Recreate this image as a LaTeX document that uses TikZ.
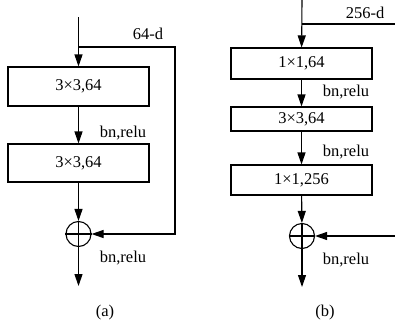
\documentclass[tikz,border=0pt]{standalone}
\usepackage{fontspec}
\setmainfont{Liberation Serif}
\usetikzlibrary{arrows.meta}
\begin{document}
\begin{tikzpicture}[x=1pt,y=-1pt,
  line width=1.1pt,
  >={Triangle[length=12pt,width=8pt]},
  txt/.style={font=\fontsize{16.5}{18}\selectfont},
  blk/.style={draw, rectangle, minimum width=141pt, inner sep=0pt, txt},
  lbl/.style={inner sep=0pt, txt},
  sumc/.style={draw, circle, minimum size=25pt, inner sep=0pt}]
\useasboundingbox (0,0) rectangle (395,324);
% ---------- panel (a)
\coordinate (ain) at (78.5,17);
\coordinate (aj) at (78.5,47);
\coordinate (ar1) at (175,47);
\coordinate (ar2) at (175,234);
\coordinate (aout) at (78.5,286);
\node[blk, minimum height=39pt] (a1) at (78.5,86.5) {3×3,64};
\node[blk, minimum height=38pt] (a2) at (78.5,163) {3×3,64};
\node[sumc] (ac) at (78.5,234) {};
\draw (ac.north) -- (ac.south) (ac.west) -- (ac.east);
\draw[->] (ain) -- (a1);
\draw[->] (a1) -- (a2);
\draw[->] (a2) -- (ac);
\draw[->] (aj) -- (ar1) -- (ar2) -- (ac);
\draw[->] (ac) -- (aout);
\node[lbl] (ad) at (148,34) {64-d};
\node[lbl] (ab1) at (123,133) {bn,relu};
\node[lbl] (ab2) at (123,258) {bn,relu};
\node[lbl] (acap) at (105,313) {(a)};
% ---------- panel (b)
\coordinate (bin) at (302,0);
\coordinate (bj) at (302,24);
\coordinate (br1) at (395,24);
\coordinate (br2) at (395,236);
\coordinate (bout) at (302,287);
\node[blk, minimum height=31pt] (b1) at (301.5,63.5) {1×1,64};
\node[blk, minimum height=24pt] (b2) at (301.5,119) {3×3,64};
\node[blk, minimum height=30pt] (b3) at (301.5,180) {1×1,256};
\node[sumc] (bc) at (302,236) {};
\draw (bc.north) -- (bc.south) (bc.west) -- (bc.east);
\draw[->] (bin) -- (b1);
\draw (bj) -- (br1);
\draw[->] (b1) -- (b2);
\draw[->] (b2) -- (b3);
\draw[->] (b3) -- (bc);
\draw[->] (br2) -- (bc);
\draw[->] (bc) -- (bout);
\node[lbl] (bd) at (365,13) {256-d};
\node[lbl] (bb1) at (346,92) {bn,relu};
\node[lbl] (bb2) at (346,152) {bn,relu};
\node[lbl] (bb3) at (346,260) {bn,relu};
\node[lbl] (bcap) at (325,313) {(b)};
\end{tikzpicture}
\end{document}
